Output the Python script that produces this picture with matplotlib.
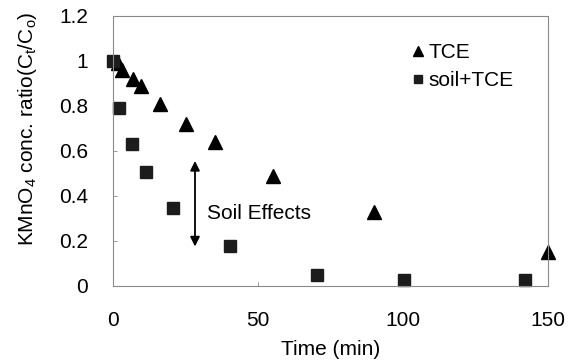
import matplotlib
matplotlib.use("Agg")
import matplotlib.pyplot as plt

plt.rcParams['font.family'] = ['Liberation Sans', 'DejaVu Sans']
plt.rcParams['mathtext.default'] = 'regular'

# data
tce_time = [1.5, 3, 6.7, 9.4, 16, 25.2, 35.2, 55, 90, 150]
tce_ratio = [0.99, 0.96, 0.92, 0.89, 0.81, 0.72, 0.64, 0.49, 0.33, 0.15]
soil_time = [0, 2, 6.3, 11.3, 20.6, 40.3, 70.2, 100.2, 142]
soil_ratio = [1.0, 0.79, 0.63, 0.505, 0.345, 0.176, 0.049, 0.024, 0.024]

x_ticks = [0, 50, 100, 150]
y_ticks = [0, 0.2, 0.4, 0.6, 0.8, 1.0, 1.2]
y_ticklabels = ['0', '0.2', '0.4', '0.6', '0.8', '1', '1.2']

# soil effect arrow: x position, top and bottom
arrow_x = 28.2
arrow_top = 0.555
arrow_bottom = 0.175

fs = 15

fig = plt.figure(figsize=(5.78, 3.6), dpi=100)
ax = fig.add_axes([0.196, 0.206, 0.752, 0.750])

ax.plot(tce_time, tce_ratio, linestyle='none', marker='^', markersize=9.5,
        color='black', label='TCE', clip_on=False)
ax.plot(soil_time, soil_ratio, linestyle='none', marker='s', markersize=8.4,
        color='#1c1c1c', label='soil+TCE', clip_on=False)

ax.annotate('', xy=(arrow_x, arrow_bottom), xytext=(arrow_x, arrow_top),
            arrowprops=dict(arrowstyle='<|-|>', color='black', lw=1.3,
                            mutation_scale=14, shrinkA=0, shrinkB=0))
ax.text(32.3, 0.32, 'Soil Effects', fontsize=fs, va='center', ha='left')

ax.set_xlim(0, 150)
ax.set_ylim(0, 1.2)
ax.set_xticks(x_ticks)
ax.set_yticks(y_ticks)
ax.set_yticklabels(y_ticklabels)
ax.tick_params(direction='in', length=3, width=0.6, color='#888888',
               labelsize=fs)
ax.tick_params(axis='x', pad=18)
ax.tick_params(axis='y', pad=18)

for side in ['left', 'right', 'top', 'bottom']:
    ax.spines[side].set_color('#8a8a8a')
    ax.spines[side].set_linewidth(0.8)
    ax.spines[side].set_linestyle((0, (2, 1)))

ax.set_xlabel('Time (min)', fontsize=fs, labelpad=7)
ax.set_ylabel(r'KMnO$_4$ conc. ratio(C$_t$/C$_o$)', fontsize=fs)
ax.yaxis.set_label_coords(-0.17, 0.58)

ax.legend(loc='upper left', bbox_to_anchor=(0.689, 0.90), frameon=False,
          fontsize=fs, borderpad=0, borderaxespad=0, handletextpad=0.25,
          labelspacing=0.45, handlelength=0.5, markerscale=0.75)

fig.savefig('out.png', dpi=100)
